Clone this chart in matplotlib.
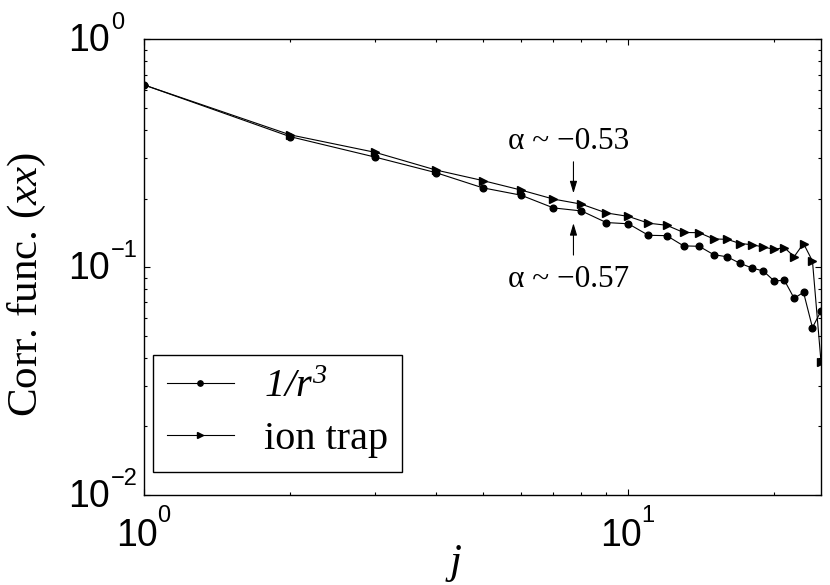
import matplotlib
matplotlib.use("Agg")
import matplotlib.pyplot as plt
from matplotlib.ticker import LogLocator, NullFormatter, FixedLocator
from matplotlib.transforms import blended_transform_factory, offset_copy

# correlation function vs site distance j
j = list(range(1, 26))
corr_r3 = [0.630, 0.374, 0.304, 0.260, 0.223, 0.207, 0.182, 0.1765, 0.157, 0.155,
           0.138, 0.1375, 0.124, 0.1235, 0.1135, 0.111, 0.104, 0.0992, 0.0962, 0.087,
           0.0876, 0.073, 0.0776, 0.0543, 0.0642]
corr_ion = [0.630, 0.381, 0.319, 0.267, 0.240, 0.218, 0.199, 0.189, 0.173, 0.167,
            0.156, 0.1527, 0.142, 0.1417, 0.133, 0.1325, 0.127, 0.1255, 0.1226, 0.1198,
            0.1218, 0.1112, 0.127, 0.1064, 0.0383]

labels = [r"$1/r^3$", "ion trap"]
alpha_upper = "\u03b1 ~ \u22120.53"
alpha_lower = "\u03b1 ~ \u22120.57"
x_exps = [0, 1]
y_exps = [-2, -1, 0]

plt.rcParams["font.family"] = "Liberation Serif"
plt.rcParams["mathtext.fontset"] = "custom"
# every mathtext piece here (xx, j, 1/r^3) is italic in the reference
plt.rcParams["mathtext.rm"] = "Liberation Serif:italic"
plt.rcParams["mathtext.it"] = "Liberation Serif:italic"

fig = plt.figure(figsize=(8.3, 5.85), dpi=100)
ax = fig.add_axes([0.1739, 0.1538, 0.8153, 0.779])

ax.plot(j, corr_r3, color="black", lw=0.8, marker="o", ms=4.8, label=labels[0])
ax.plot(j, corr_ion, color="black", lw=0.8, marker=">", ms=5.4, label=labels[1])

ax.set_xscale("log")
ax.set_yscale("log")
ax.set_xlim(1, 25)
ax.set_ylim(1e-2, 1e0)

ax.xaxis.set_major_locator(FixedLocator([10.0 ** e for e in x_exps]))
ax.yaxis.set_major_locator(FixedLocator([10.0 ** e for e in y_exps]))
ax.xaxis.set_minor_locator(LogLocator(base=10, subs=range(2, 10), numticks=20))
ax.yaxis.set_minor_locator(LogLocator(base=10, subs=range(2, 10), numticks=20))
for axis in (ax.xaxis, ax.yaxis):
    axis.set_major_formatter(NullFormatter())
    axis.set_minor_formatter(NullFormatter())

ax.tick_params(which="both", direction="in", top=True, right=True, width=0.8)
ax.tick_params(which="major", length=4.5)
ax.tick_params(which="minor", length=2.5)
for s in ax.spines.values():
    s.set_linewidth(1.0)

# MATLAB-style tick labels: "10" plus a raised exponent
sans = "Liberation Sans"
xt = blended_transform_factory(ax.transData, ax.transAxes)
yt = blended_transform_factory(ax.transAxes, ax.transData)
for e in x_exps:
    ax.text(10.0 ** e, 0, "10", fontsize=27, family=sans, ha="center", va="center",
            transform=offset_copy(xt, fig=fig, x=-7, y=-41, units="dots"), clip_on=False)
    ax.text(10.0 ** e, 0, str(e), fontsize=17, family=sans, ha="left", va="center",
            transform=offset_copy(xt, fig=fig, x=13, y=-21, units="dots"), clip_on=False)
for e in y_exps:
    ax.text(0, 10.0 ** e, "10", fontsize=27, family=sans, ha="right", va="center",
            transform=offset_copy(yt, fig=fig, x=-34, y=-2, units="dots"), clip_on=False)
    ax.text(0, 10.0 ** e, str(e).replace("-", "\u2212"), fontsize=17, family=sans,
            ha="left", va="center",
            transform=offset_copy(yt, fig=fig, x=-33, y=16, units="dots"), clip_on=False)

ax.set_xlabel(r"$j$", fontsize=31)
ax.set_ylabel(r"Corr. func. ($xx$)", fontsize=31)
ax.xaxis.set_label_coords(0.4577, -0.105)
ax.yaxis.set_label_coords(-0.142, 0.463)

# slope annotations
ax.text(7.51, 0.355, alpha_upper, fontsize=22.5, ha="center", va="center")
ax.text(7.53, 0.0879, alpha_lower, fontsize=22.5, ha="center", va="center")
arrow = dict(arrowstyle="-|>,head_length=0.6,head_width=0.18", color="black",
             lw=0.8, shrinkA=0, shrinkB=0, mutation_scale=12)
ax.annotate("", xy=(7.7, 0.211), xytext=(7.7, 0.290), arrowprops=arrow)
ax.annotate("", xy=(7.7, 0.156), xytext=(7.7, 0.113), arrowprops=arrow)

leg = ax.legend(loc="lower left", bbox_to_anchor=(0.0129, 0.0511), borderaxespad=0,
                fontsize=29, fancybox=False, framealpha=1, edgecolor="black",
                handlelength=1.65, handletextpad=0.75, borderpad=0.35, labelspacing=0.35,
                markerscale=0.8)
leg.get_frame().set_linewidth(1.0)

fig.savefig("out.png", dpi=100)
